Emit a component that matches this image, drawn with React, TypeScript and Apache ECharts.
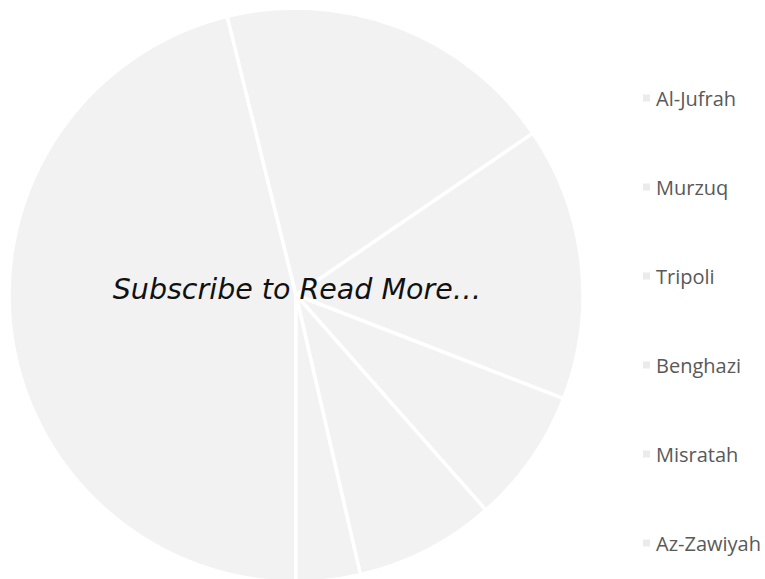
import React, { useEffect, useRef } from "react";
import * as echarts from "echarts";

const categories = ["Al-Jufrah", "Murzuq", "Tripoli", "Benghazi", "Misratah", "Az-Zawiyah"];
const values = [46.1, 19.3, 15.4, 7.6, 7.9, 3.6];
const overlayText = "Subscribe to Read More…";

export default function App() {
  const ref = useRef<HTMLDivElement>(null);
  useEffect(() => {
    if (!ref.current) return;
    const chart = echarts.init(ref.current, undefined, { renderer: "svg" });
    chart.setOption({
      animation: false,
      backgroundColor: "#ffffff",
      legend: {
        orient: "vertical",
        left: 636,
        top: 83,
        itemWidth: 9,
        itemHeight: 9,
        itemGap: 69,
        icon: "rect",
        selectedMode: false,
        itemStyle: { color: "#ebebeb" },
        textStyle: {
          fontFamily: "Open Sans",
          fontSize: 20,
          color: "#595959",
          lineHeight: 20,
        },
        data: categories,
      },
      series: [
        {
          type: "pie",
          center: [296, 295],
          radius: 287,
          startAngle: -90,
          clockwise: true,
          silent: true,
          z: 1,
          label: { show: false },
          labelLine: { show: false },
          itemStyle: { color: "#f2f2f2", borderColor: "#ffffff", borderWidth: 3.5 },
          emphasis: { disabled: true },
          data: categories.map((c, i) => ({ name: c, value: values[i] })),
        },
      ],
      graphic: [
        {
          type: "text",
          z: 100,
          x: 297,
          y: 289,
          style: {
            text: overlayText,
            fontFamily: "DejaVu Sans",
            fontStyle: "italic",
            fontWeight: 300,
            fontSize: 28.5,
            fill: "#111111",
            align: "center",
            verticalAlign: "middle",
          },
        },
      ],
    });
    return () => chart.dispose();
  }, []);
  return (
    <div
      ref={ref}
      style={{ position: "fixed", left: 0, top: 0, width: 765, height: 579 }}
    />
  );
}
